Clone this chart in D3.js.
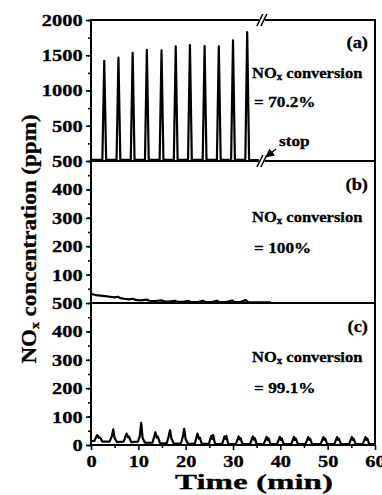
<!DOCTYPE html>
<html>
<head>
<meta charset="utf-8">
<script src="https://cdn.jsdelivr.net/npm/d3@7"></script>
<style>
  body { margin: 0; background: #fff; }
  svg { display: block; font-family: "Liberation Serif", "Times New Roman", serif; font-weight: bold; }
  svg text { stroke: #000; stroke-width: 0.3; }
  .axis path, .axis line { stroke: #000; stroke-width: 1.6; }
  .axis text { font-size: 17px; font-weight: bold; fill: #000; font-family: "Liberation Serif", serif; }
</style>
</head>
<body>
<svg width="382" height="495"></svg>
<script>
// panel (a): time (min), NOx (ppm)
const timeA = [0, 2.4, 2.8, 3.2, 5.4, 5.8, 6.2, 8.4, 8.8, 9.2, 11.4, 11.8, 12.2, 14.5, 14.9, 15.3,
  17.5, 17.9, 18.3, 20.5, 20.9, 21.3, 23.6, 24.0, 24.4, 26.6, 27.0, 27.4, 29.6, 30.0, 30.4,
  32.6, 33.0, 33.4, 36];
const concA = [15, 15, 1420, 15, 15, 1465, 15, 15, 1535, 15, 15, 1575, 15, 15, 1570, 15,
  15, 1625, 15, 15, 1645, 15, 15, 1630, 15, 15, 1625, 15, 15, 1710, 15,
  15, 1830, 15, 12];

// panel (b)
const timeB = [0, 1, 2, 3, 4, 5, 5.7, 6.2, 7, 8, 8.9, 9.4, 10.5, 11.8, 12.3, 13.5, 15, 15.5, 16.5,
  17.7, 18.2, 19.5, 20.5, 21, 22.5, 23.7, 24.2, 25.5, 26.6, 27.1, 28.5, 29.8, 30.3, 31.5,
  32.7, 33.2, 35, 38];
const concB = [32, 28, 26, 24, 22, 20, 22, 17, 15, 13, 15, 11, 9, 12, 8, 7, 9, 6, 5,
  8, 5, 4, 8, 4, 3, 8, 3, 3, 8, 3, 3, 9, 3, 3,
  10, 3, 2, 2];

// panel (c)
const timeC = [0, 0.7, 1.3, 1.7, 1.9, 2.4, 3.9, 4.4, 4.7, 5.0, 5.5, 6.9, 7.5, 7.8, 8.0, 8.5,
  9.9, 10.3, 10.6, 10.9, 11.4, 13.0, 13.6, 13.9, 14.1, 14.6, 16.0, 16.4, 16.7, 17.0, 17.5,
  19.0, 19.4, 19.7, 20.0, 20.5, 21.9, 22.5, 22.8, 23.0, 23.4, 24.9, 25.4, 25.6, 25.8, 26.2,
  27.7, 28.2, 28.4, 28.6, 29.0, 30.6, 31.2, 31.4, 31.6, 32.0, 33.6, 34.2, 34.4, 34.6, 35.0,
  36.5, 37.1, 37.3, 37.5, 37.9, 39.3, 39.9, 40.1, 40.3, 40.7, 42.3, 42.9, 43.1, 43.3, 43.7,
  45.3, 45.9, 46.1, 46.3, 46.7, 48.5, 49.1, 49.3, 49.5, 49.9, 51.4, 52.0, 52.2, 52.4, 52.8,
  54.5, 55.1, 55.3, 55.5, 55.9, 57.4, 58.0, 58.2, 58.4, 58.8, 60];
const concC = [14, 14, 35, 25, 27, 12, 12, 30, 55, 24, 10, 12, 40, 27, 30, 10,
  12, 30, 78, 25, 8, 8, 45, 26, 30, 6, 6, 30, 52, 22, 5,
  5, 30, 57, 20, 4, 4, 40, 22, 26, 4, 4, 32, 22, 35, 4,
  3, 30, 22, 32, 3, 3, 30, 20, 24, 3, 3, 30, 19, 24, 3,
  3, 29, 18, 23, 3, 3, 29, 18, 23, 3, 3, 29, 18, 22, 3,
  3, 28, 18, 22, 3, 3, 28, 18, 22, 3, 3, 28, 18, 22, 3,
  3, 28, 18, 22, 3, 3, 28, 18, 22, 3, 3];

const ticksA = [500, 1000, 1500, 2000];
const ticksB = [100, 200, 300, 400, 500];
const ticksC = [0, 100, 200, 300, 400, 500];
const ticksX = [0, 10, 20, 30, 40, 50, 60];
const notes = [
  { tag: "(a)", value: "= 70.2%" },
  { tag: "(b)", value: "= 100%" },
  { tag: "(c)", value: "= 99.1%" }
];

const svg = d3.select("svg");
const left = 91, right = 375;
const x = d3.scaleLinear().domain([0, 60]).range([left, right]);
const yA = d3.scaleLinear().domain([0, 2000]).range([161, 20]);
const yB = d3.scaleLinear().domain([0, 500]).range([303, 161]);
const yC = d3.scaleLinear().domain([0, 500]).range([445, 303]);

const panels = [
  { y: yA, t: timeA, c: concA, ticks: ticksA, minor: d3.range(250, 2001, 250), textY: [48, 78, 107] },
  { y: yB, t: timeB, c: concB, ticks: ticksB, minor: d3.range(50, 501, 50), textY: [190, 222, 253] },
  { y: yC, t: timeC, c: concC, ticks: ticksC, minor: d3.range(0, 501, 50), textY: [332, 362, 393] }
];

// stretched bold text, like the original figure
function label(x0, y0, size, sx) {
  return svg.append("text")
    .attr("transform", `translate(${x0},${y0}) scale(${sx},1)`)
    .attr("font-size", size);
}

panels.forEach((p, i) => {
  const line = d3.line()
    .x((d, j) => x(p.t[j]))
    .y((d, j) => p.y(p.c[j]));
  svg.append("path")
    .datum(p.t)
    .attr("d", line)
    .attr("fill", "none")
    .attr("stroke", "#000")
    .attr("stroke-width", 2.2)
    .attr("stroke-linejoin", "round");

  // minor ticks
  svg.append("g")
    .attr("class", "axis")
    .attr("transform", `translate(${left},0)`)
    .call(d3.axisLeft(p.y).tickValues(p.minor).tickSize(3).tickFormat(""))
    .select(".domain").remove();

  const g = svg.append("g")
    .attr("class", "axis")
    .attr("transform", `translate(${left},0)`)
    .call(d3.axisLeft(p.y).tickValues(p.ticks).tickSize(5).tickPadding(2).tickFormat(d3.format("d")));
  g.select(".domain").remove();
  g.selectAll("text").attr("transform", "scale(1.2,1)");

  const n = notes[i];
  label(368, p.textY[0], 16, 1.15).attr("text-anchor", "end").text(n.tag);
  const t1 = label(252, p.textY[1], 15, 1.1);
  t1.append("tspan").text("NO");
  t1.append("tspan").attr("font-size", 10).attr("dy", 2).text("x");
  t1.append("tspan").attr("dy", -2).text(" conversion");
  label(254, p.textY[2], 15, 1.15).text(n.value);
});

// x axis
svg.append("g")
  .attr("class", "axis")
  .attr("transform", "translate(0,445)")
  .call(d3.axisBottom(x).tickValues(d3.range(5, 60, 10)).tickSize(3).tickFormat(""))
  .select(".domain").remove();
const gx = svg.append("g")
  .attr("class", "axis")
  .attr("transform", "translate(0,445)")
  .call(d3.axisBottom(x).tickValues(ticksX).tickSize(5).tickPadding(5));
gx.select(".domain").remove();
gx.selectAll("text").attr("transform", "scale(1.2,1)");

// frames
const frame = svg.append("g").attr("stroke", "#000").attr("stroke-width", 2).attr("fill", "none");
frame.append("rect").attr("x", left).attr("y", 20).attr("width", right - left).attr("height", 425);
frame.append("line").attr("x1", left).attr("x2", right).attr("y1", yB(500)).attr("y2", yB(500));
frame.append("line").attr("x1", left).attr("x2", right).attr("y1", yC(500)).attr("y2", yC(500));

// axis break marks on panel (a)
const bx = x(36.1);
[20, 161].forEach(by => {
  svg.append("rect").attr("x", bx - 3).attr("y", by - 2).attr("width", 6).attr("height", 4).attr("fill", "#fff");
  [-2, 2].forEach(dx => {
    svg.append("line")
      .attr("x1", bx + dx - 3).attr("y1", by + 6)
      .attr("x2", bx + dx + 3).attr("y2", by - 6)
      .attr("stroke", "#000").attr("stroke-width", 1.5);
  });
});

// stop arrow
svg.append("defs").append("marker")
  .attr("id", "arr").attr("viewBox", "0 0 10 10").attr("refX", 9).attr("refY", 5)
  .attr("markerWidth", 6).attr("markerHeight", 6).attr("orient", "auto")
  .append("path").attr("d", "M0,0L10,5L0,10z").attr("fill", "#000");
svg.append("line")
  .attr("x1", 276).attr("y1", 149).attr("x2", 266).attr("y2", 157)
  .attr("stroke", "#000").attr("stroke-width", 1.5).attr("marker-end", "url(#arr)");
label(279, 146, 15, 1.15).text("stop");

// axis titles
label(254, 489, 22, 1.5).attr("text-anchor", "middle").text("Time (min)");
const yl = svg.append("text")
  .attr("transform", "translate(36,239) rotate(-90) scale(1.05,1)")
  .attr("text-anchor", "middle")
  .attr("font-size", 22);
yl.append("tspan").text("NO");
yl.append("tspan").attr("font-size", 13).attr("dy", 3).text("x");
yl.append("tspan").attr("dy", -3).text(" concentration (ppm)");
</script>
</body>
</html>
